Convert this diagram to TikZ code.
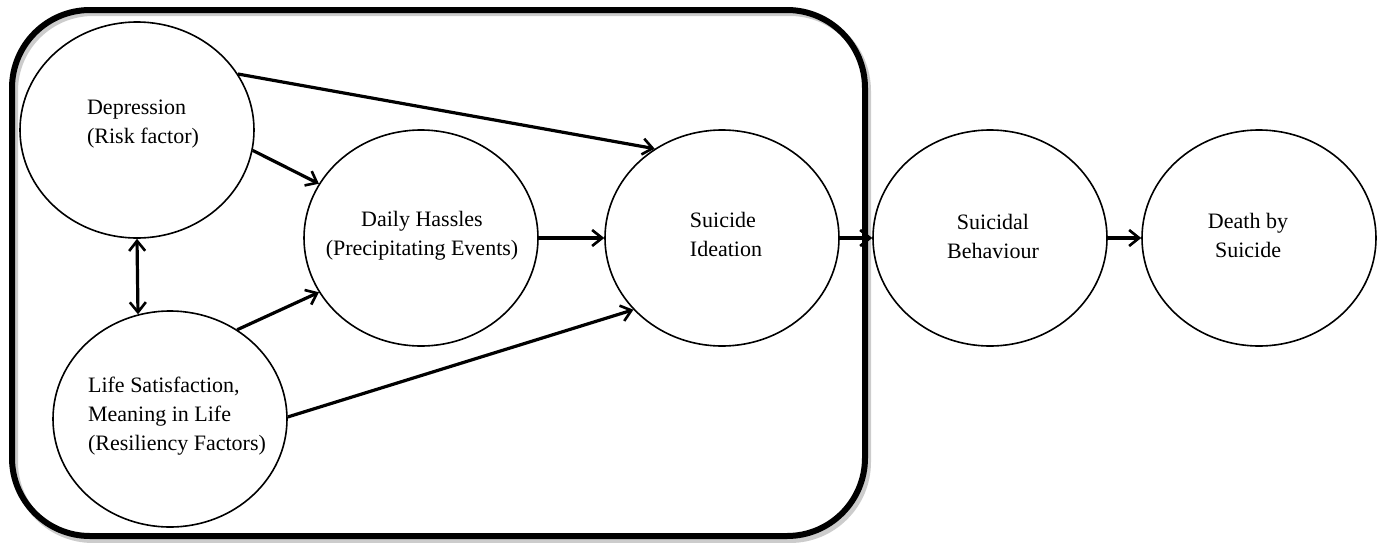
\documentclass[tikz,border=0pt]{standalone}
\usepackage{fontspec}
\setmainfont{Liberation Serif}
\usetikzlibrary{arrows.meta,shapes.geometric}
\begin{document}
\begin{tikzpicture}[x=0.5pt,y=-0.5pt,
  blob/.style={draw=black,line width=0.8pt,ellipse,minimum width=117pt,minimum height=108pt,inner sep=0pt},
  txt/.style={inner sep=0pt,font=\fontsize{11}{14.5}\selectfont},
  link/.style={line width=1.6pt,-{Straight Barb[length=5pt,width=8pt,line width=1.3pt]}},
  both/.style={line width=1.6pt,{Straight Barb[length=5pt,width=8pt,line width=1.3pt]}-{Straight Barb[length=5pt,width=8pt,line width=1.3pt]}},
  frame/.style={draw=black,line width=3pt,rounded corners=39pt}]
\useasboundingbox (0,0) rectangle (1382,542);
\draw[frame,draw=black!20,line width=3pt] (15,13) rectangle (868,540);
\draw[frame] (12,10) rectangle (865,536);
\node[blob] (dep) at (137,130) {};
\node[blob] (life) at (170,419) {};
\node[blob] (dh) at (421,238) {};
\node[blob] (si) at (722,238) {};
\node[blob] (sb) at (990,238) {};
\node[blob] (ds) at (1259,238) {};
\node[txt,align=left] (dept) at (143,124) {Depression\\(Risk factor)};
\node[txt,align=left] (lifet) at (177,416) {Life Satisfaction,\\Meaning in Life\\(Resiliency Factors)};
\node[txt,align=center] (dht) at (422,236) {Daily Hassles\\(Precipitating Events)};
\node[txt,align=left] (sit) at (726,234) {Suicide\\Ideation};
\node[txt,align=center] (sbt) at (993,236) {Suicidal\\Behaviour};
\node[txt,align=center] (dst) at (1248,235) {Death by\\Suicide};
\draw[link] (dep.29) -- (si.127);
\draw[link] (dep.-10) -- (dh.152);
\draw[both] (dep.south) -- (life.107);
\draw[link] (life.53) -- (dh.208);
\draw[link] (life.1) -- (si.219);
\draw[link] (dh) -- (si);
\draw[link] (si) -- (sb);
\draw[link] (sb) -- (ds);
\end{tikzpicture}
\end{document}
